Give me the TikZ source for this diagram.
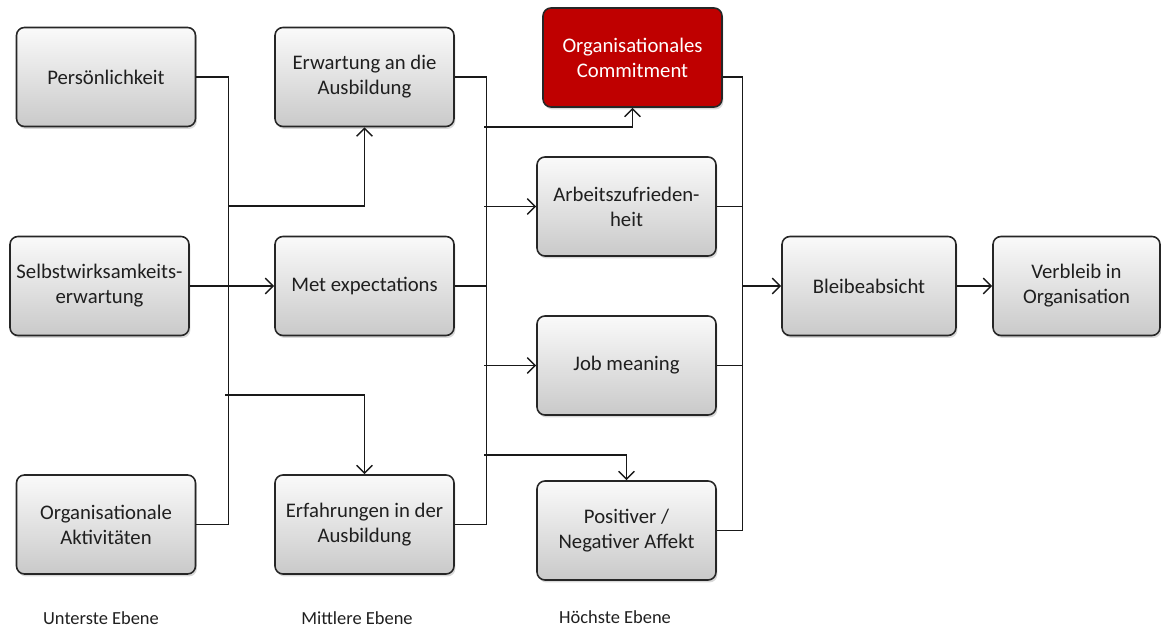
\documentclass[tikz,border=0pt]{standalone}
\usepackage{fontspec}
\setmainfont{Carlito}
\usetikzlibrary{arrows.meta,shadows}

\tikzset{
  box/.style={draw=black!85, line width=0.9pt, rounded corners=4.5pt,
    top color=gray!4, bottom color=gray!42,
    drop shadow={shadow xshift=0.8pt, shadow yshift=-1.4pt, opacity=0.3},
    minimum width=3.58cm, minimum height=1.98cm, align=center,
    text=black!88, font=\fontsize{11.8}{14.2}\selectfont},
  redbox/.style={box, top color=red!75!black, bottom color=red!75!black, text=white},
  link/.style={line width=0.75pt, black!90},
  arr/.style={link, -{Straight Barb[length=4.5pt, width=9pt, line width=0.8pt]}},
  ebene/.style={font=\fontsize{10.5}{12}\selectfont, text=black!88}
}

\begin{document}
\begin{tikzpicture}[x=0.02cm, y=-0.02cm]
\useasboundingbox (0,0) rectangle (1161,631);

% unterste Ebene
\node[box] (pers) at (106,77) {Persönlichkeit};
\node[box] (selbst) at (99.5,286) {Selbstwirksamkeits-\\erwartung};
\node[box] (orga) at (106,524.5) {Organisationale\\Aktivitäten};

% mittlere Ebene
\node[box] (erw) at (364.5,77) {Erwartung an die\\Ausbildung};
\node[box] (met) at (364.5,286) {Met expectations};
\node[box] (erf) at (364.5,524.5) {Erfahrungen in der\\Ausbildung};

% hoechste Ebene
\node[redbox] (com) at (632.5,57.5) {Organisationales\\Commitment};
\node[box] (arb) at (626.5,206.5) {Arbeitszufrieden-\\heit};
\node[box] (job) at (626.5,365.5) {Job meaning};
\node[box] (aff) at (626.5,530.5) {Positiver /\\Negativer Affekt};

\node[box, minimum width=3.48cm] (bleib) at (869,286) {Bleibeabsicht};
\node[box, minimum width=3.34cm] (verb) at (1076.5,286) {Verbleib in\\Organisation};

\node[ebene] (e1) at (101,618) {Unterste Ebene};
\node[ebene] (e2) at (357,618) {Mittlere Ebene};
\node[ebene] (e3) at (615,617) {Höchste Ebene};

\coordinate (b1) at (228,206);
\coordinate (b2) at (225,395);
\coordinate (c1) at (484,127);
\coordinate (c2) at (484,206.5);
\coordinate (c3) at (484,365.5);
\coordinate (c4) at (484,455);
\coordinate (d1) at (742,286);

\draw[link] (pers.east) -- ++(32,0) |- (orga.east);
\draw[arr] (b1) -| (erw.south);
\draw[arr] (selbst.east) -- (met.west);
\draw[arr] (b2) -| (erf.north);

\draw[link] (erw.east) -- ++(32,0) |- (erf.east);
\draw[link] (met.east) -- ++(32,0);
\draw[arr] (c1) -| (com.south);
\draw[arr] (c2) -- (arb.west);
\draw[arr] (c3) -- (job.west);
\draw[arr] (c4) -| (aff.north);

\draw[link] (com.east |- pers) -- ++(20,0) |- (aff.east);
\draw[link] (arb.east) -- ++(26,0);
\draw[link] (job.east) -- ++(26,0);
\draw[arr] (d1) -- (bleib.west);
\draw[arr] (bleib.east) -- (verb.west);
\end{tikzpicture}
\end{document}
